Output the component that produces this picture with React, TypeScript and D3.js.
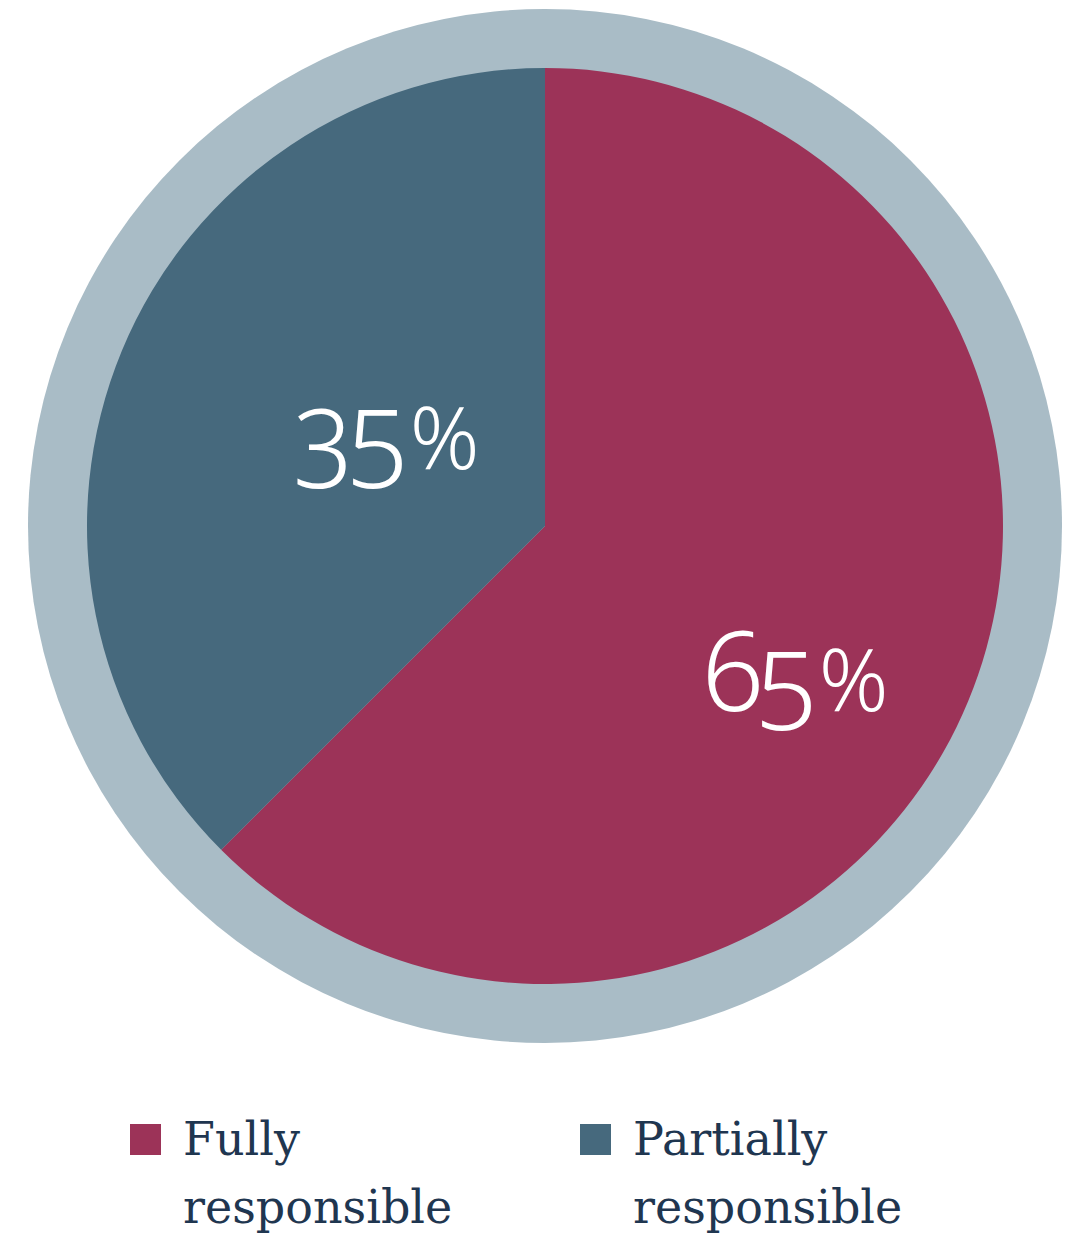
import React from "react";
import * as d3 from "d3";

const categories = ["Fully responsible", "Partially responsible"];
const legendLines = [["Fully", "responsible"], ["Partially", "responsible"]];
const sliceShares = [62.5, 37.5];
const valueNumbers = ["65", "35"];
const colors = ["#9c3358", "#46697d"];

export default function App() {
  const W = 1075, H = 1234;
  const cx = 545, cy = 526;
  const rOuter = 517, rInner = 458;
  const pie = d3.pie<number>().sort(null).value((d) => d)(sliceShares);
  const arc = d3.arc<d3.PieArcDatum<number>>().innerRadius(0).outerRadius(rInner);
  const labelOffsets = [
    { r: 312, da: 0.243 },
    { r: 168, da: -0.047 },
  ];
  const legendX = [130, 580];
  return (
    <svg width={W} height={H} style={{ position: "absolute", left: 0, top: 0 }}>
      <circle cx={cx} cy={cy} r={rOuter} fill="#a9bcc6" />
      <g transform={`translate(${cx},${cy})`}>
        {pie.map((p, i) => (
          <path key={i} d={arc(p) || ""} fill={colors[i]} />
        ))}
        {pie.map((p, i) => {
          const a = (p.startAngle + p.endAngle) / 2 + labelOffsets[i].da;
          const x = Math.sin(a) * labelOffsets[i].r;
          const y = -Math.cos(a) * labelOffsets[i].r;
          return (
            <text
              key={i}
              x={x}
              y={y}
              textAnchor="middle"
              fill="#fff"
              fontFamily="Noto Sans"
              fontWeight={350}
              fontSize={110}
              letterSpacing={-5}
              style={{ fontVariantNumeric: "oldstyle-nums" }}
            >
              {valueNumbers[i]}
              <tspan fontSize={86} dx={7} letterSpacing={0}>%</tspan>
            </text>
          );
        })}
      </g>
      {categories.map((c, i) => (
        <g key={c}>
          <rect x={legendX[i]} y={1124} width={31} height={31} fill={colors[i]} />
          <text
            x={legendX[i] + 53}
            y={1155}
            fill="#1f3650"
            fontFamily="DejaVu Serif"
            fontSize={46}
          >
            {legendLines[i].map((l, j) => (
              <tspan key={j} x={legendX[i] + 53} dy={j === 0 ? 0 : 68}>
                {l}
              </tspan>
            ))}
          </text>
        </g>
      ))}
    </svg>
  );
}
